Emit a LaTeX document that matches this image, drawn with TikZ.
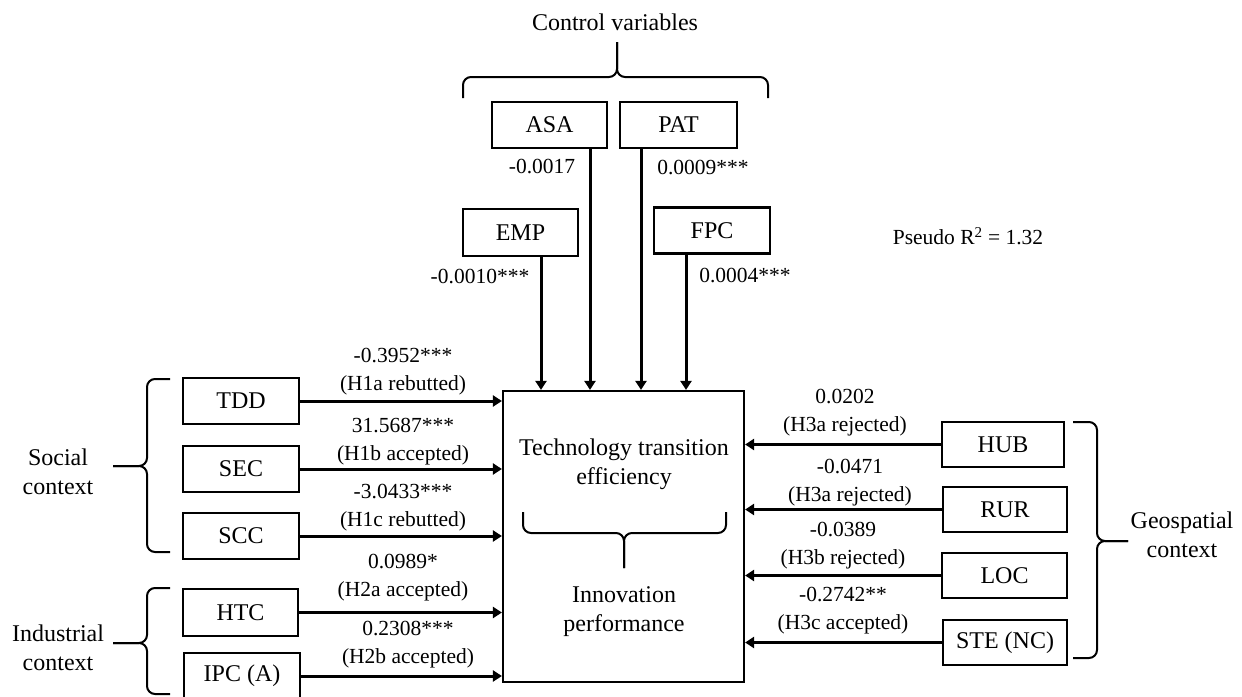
\documentclass[tikz,border=0pt]{standalone}
\usepackage{fontspec}
\setmainfont{Liberation Serif}
\usetikzlibrary{arrows.meta}
\begin{document}
\begin{tikzpicture}[x=1pt,y=-1pt,
  var/.style={draw,line width=2.2pt,inner sep=0pt,minimum height=46pt,
    font=\fontsize{24}{29}\selectfont},
  coef/.style={align=center,inner sep=0pt,font=\fontsize{21.5}{28}\selectfont},
  group/.style={align=center,inner sep=0pt,font=\fontsize{24}{29}\selectfont},
  arr/.style={line width=3pt,-{Triangle[length=9pt,width=11pt]}},
  brace/.style={line width=2pt,rounded corners=8pt}]
\fill[white] (0,0) rectangle (1242,696);
\useasboundingbox (0,0) rectangle (1242,696);

% central outcome box
\node[draw,line width=2.2pt,minimum width=241pt,minimum height=291pt,inner sep=0pt] (main) at (623.5,536.5) {};
\node[group] (tte) at (624,464.5) {Technology transition\\efficiency};
\node[group] (inp) at (624,612) {Innovation\\performance};
\draw[brace] (523,512) -- (523,533) -- (624,533) -- (624,568);
\draw[brace] (726,512) -- (726,533) -- (624,533) -- (624,568);

% control variables
\node[group] (ctrl) at (615,22) {Control variables};
\draw[brace] (463,98) -- (463,77) -- (617,77) -- (617,42);
\draw[brace] (768,98) -- (768,77) -- (617,77) -- (617,42);
\node[var,minimum width=115pt] (ASA) at (549.5,125) {ASA};
\node[var,minimum width=117pt] (PAT) at (678.5,125) {PAT};
\node[var,minimum width=115pt,minimum height=47pt] (EMP) at (520.5,232.5) {EMP};
\node[var,minimum width=116pt] (FPC) at (712,230.5) {FPC};
\draw[arr] ([xshift=40.5pt]ASA.south) -- ([xshift=40.5pt]ASA.south |- main.north);
\draw[arr] ([xshift=-37.5pt]PAT.south) -- ([xshift=-37.5pt]PAT.south |- main.north);
\draw[arr] ([xshift=20.5pt]EMP.south) -- ([xshift=20.5pt]EMP.south |- main.north);
\draw[arr] ([xshift=-26pt]FPC.south) -- ([xshift=-26pt]FPC.south |- main.north);
\node[coef] (cASA) at (542,167) {-0.0017};
\node[coef] (cPAT) at (703,168) {0.0009***};
\node[coef] (cEMP) at (480,276) {-0.0010***};
\node[coef] (cFPC) at (745,275) {0.0004***};
\node[inner sep=0pt,font=\fontsize{21.5}{26}\selectfont] (r2) at (968,236) {Pseudo R\textsuperscript{2} = 1.32};

% social context
\node[var,minimum width=116pt] (TDD) at (241,401) {TDD};
\node[var,minimum width=116pt] (SEC) at (241,469) {SEC};
\node[var,minimum width=116pt] (SCC) at (241,536) {SCC};
\draw[brace] (170,379) -- (147,379) -- (147,466) -- (113,466);
\draw[brace] (170,552) -- (147,552) -- (147,466) -- (113,466);
\node[group] (soc) at (58,472) {Social\\context};

% industrial context
\node[var,minimum width=115pt,minimum height=47pt] (HTC) at (240.5,612.5) {HTC};
\node[var,minimum width=116pt] (IPC) at (242,676) {IPC (A)};
\draw[brace] (170,588) -- (147,588) -- (147,643) -- (113,643);
\draw[brace] (170,694) -- (147,694) -- (147,643) -- (113,643);
\node[group] (ind) at (58,648) {Industrial\\context};

\draw[arr] (TDD.east) -- (TDD.east -| main.west);
\draw[arr] (SEC.east) -- (SEC.east -| main.west);
\draw[arr] (SCC.east) -- (SCC.east -| main.west);
\draw[arr] (HTC.east) -- (HTC.east -| main.west);
\draw[arr] (IPC.east) -- (IPC.east -| main.west);
\node[coef] (cTDD) at (403,371.5) {-0.3952***\\(H1a rebutted)};
\node[coef] (cSEC) at (403,442) {31.5687***\\(H1b accepted)};
\node[coef] (cSCC) at (403,507.5) {-3.0433***\\(H1c rebutted)};
\node[coef] (cHTC) at (403,577.5) {0.0989*\\(H2a accepted)};
\node[coef] (cIPC) at (408,645) {0.2308***\\(H2b accepted)};

% geospatial context
\node[var,minimum width=122pt,minimum height=45pt] (HUB) at (1003,444.5) {HUB};
\node[var,minimum width=124pt,minimum height=45pt] (RUR) at (1005,509.5) {RUR};
\node[var,minimum width=125pt,minimum height=45pt] (LOC) at (1004.5,575.5) {LOC};
\node[var,minimum width=124pt,minimum height=45pt] (STE) at (1005,642.5) {STE (NC)};
\draw[brace] (1073,422) -- (1097,422) -- (1097,541) -- (1128,541);
\draw[brace] (1073,658) -- (1097,658) -- (1097,541) -- (1128,541);
\node[group] (geo) at (1182,535) {Geospatial\\context};

\draw[arr] (HUB.west) -- (HUB.west -| main.east);
\draw[arr] (RUR.west) -- (RUR.west -| main.east);
\draw[arr] (LOC.west) -- (LOC.west -| main.east);
\draw[arr] (STE.west) -- (STE.west -| main.east);
\node[coef] (cHUB) at (845,413) {0.0202\\(H3a rejected)};
\node[coef] (cRUR) at (850,482.5) {-0.0471\\(H3a rejected)};
\node[coef] (cLOC) at (843,546) {-0.0389\\(H3b rejected)};
\node[coef] (cSTE) at (843,611) {-0.2742**\\(H3c accepted)};
\end{tikzpicture}
\end{document}
